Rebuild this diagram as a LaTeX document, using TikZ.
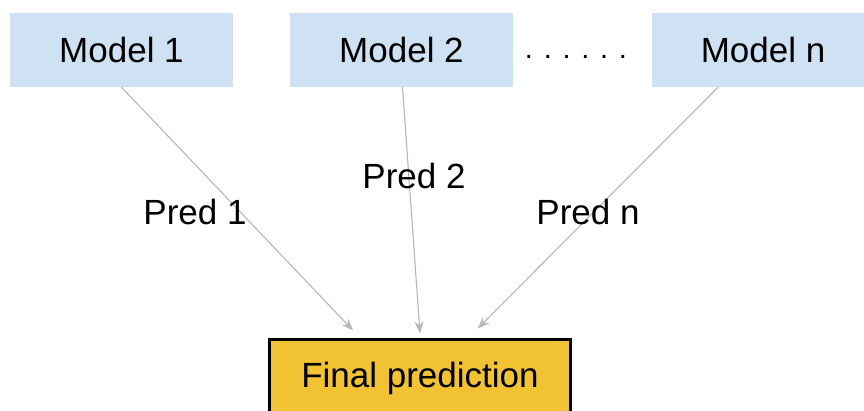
\documentclass[tikz,border=0pt]{standalone}
\usepackage{fontspec}
\setmainfont{Liberation Sans}
\usetikzlibrary{arrows.meta,calc}
\definecolor{modelblue}{HTML}{CFE2F3}
\definecolor{finalyellow}{HTML}{F1C232}
\definecolor{linkgray}{HTML}{B7B7B7}
\tikzset{
  bigtext/.style={font=\fontsize{35}{40}\selectfont},
  modelbox/.style={bigtext, fill=modelblue, draw=none, minimum width=223pt, minimum height=74pt,
    inner sep=0pt},
  finalbox/.style={bigtext, fill=finalyellow, draw=black, line width=3pt, minimum width=301pt,
    minimum height=78pt, inner sep=0pt},
  predlabel/.style={bigtext, inner sep=0pt},
  link/.style={draw=linkgray, line width=1.1pt, -{Stealth[length=12pt,width=9pt]}},
}
\begin{document}
\begin{tikzpicture}[x=1pt,y=-1pt]
  \useasboundingbox (0,0) rectangle (864,410);
  \clip (0,0) rectangle (864,410);

  % model boxes
  \node[modelbox] (m1) at (121.5,50) {Model 1};
  \node[modelbox] (m2) at (401.5,50) {Model 2};
  \node[modelbox] (mn) at (763,50) {Model n};
  \node[inner sep=0pt, font=\fontsize{29}{34}\selectfont] (dots) at (576,57) {. . . . . .};

  % combining box
  \node[finalbox] (final) at (420,378) {Final prediction};

  % edges into the final box
  \draw[link] (m1.south) -- ($(final.north west)!0.28!(final.north east)+(0,-7)$);
  \draw[link] ($(m2.south)+(1,0)$) -- ($(final.north west)!0.50!(final.north east)+(0,-4)$);
  \draw[link] ($(mn.south)-(45,0)$) -- ($(final.north west)!0.69!(final.north east)+(0,-9)$);

  % edge labels
  \node[predlabel] (p1) at (195,212) {Pred 1};
  \node[predlabel] (p2) at (414,176) {Pred 2};
  \node[predlabel] (pn) at (588,212) {Pred n};
\end{tikzpicture}
\end{document}
